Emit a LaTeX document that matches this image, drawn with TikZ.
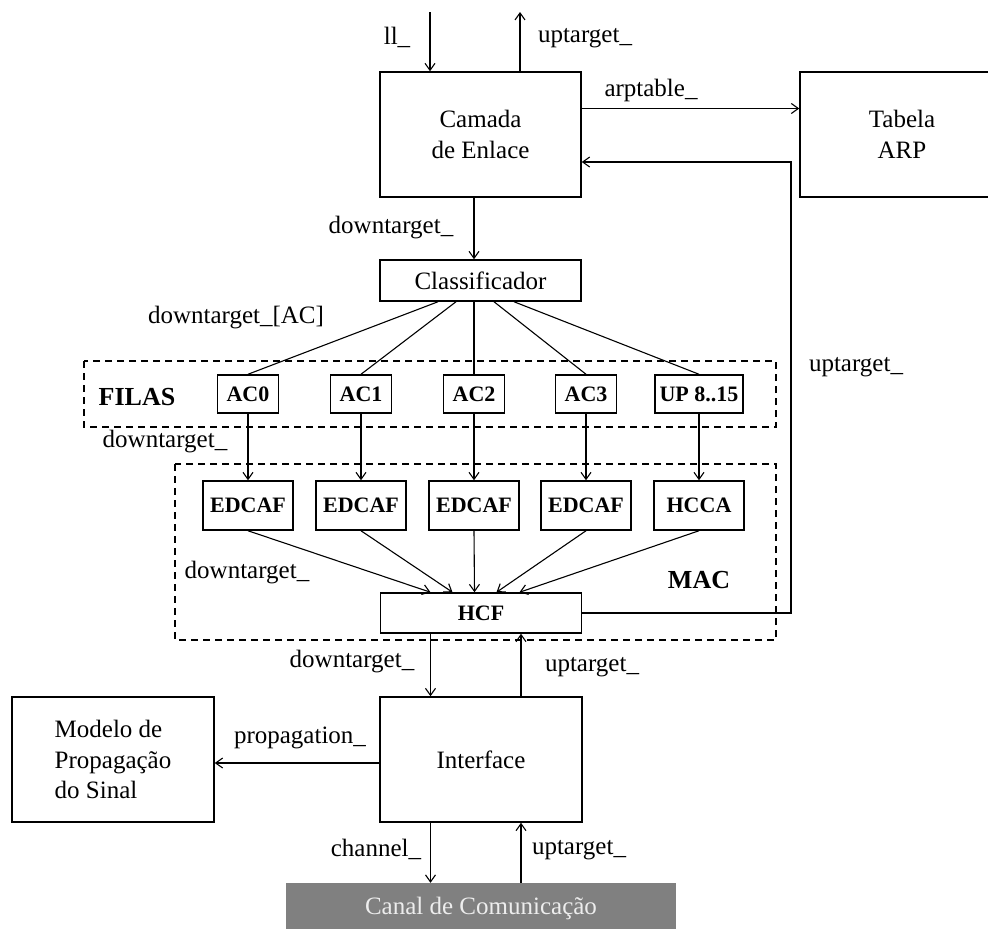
\documentclass[tikz,border=0pt]{standalone}
\usepackage{fontspec}
\setmainfont{Liberation Serif}
\usetikzlibrary{arrows.meta}
\tikzset{
    blk/.style={draw,line width=1.5pt,inner sep=0pt,align=center,font=\fontsize{25}{31}\selectfont},
    qbox/.style={draw,line width=1.5pt,inner sep=0pt,font=\bfseries\fontsize{22}{26}\selectfont},
    lbl/.style={inner sep=0pt,font=\fontsize{25}{30}\selectfont},
    grp/.style={line width=1.2pt,dash pattern=on 7pt off 5pt},
    link/.style={line width=1.1pt},
}

\begin{document}
\begin{tikzpicture}[x=1pt,y=-1pt,>={Straight Barb[length=7pt,width=10pt]}]
            \useasboundingbox (0,0) rectangle (988,929);
            \clip (0,0) rectangle (988,929);
            \draw[grp] (84,361) rectangle (776,427);
            \draw[grp] (175,464) rectangle (776,640);
            \node[blk,minimum width=201pt,minimum height=125pt] (camada) at (480.5,134.5) {Camada\\de Enlace};
            \node[blk,minimum width=204pt,minimum height=125pt] (tabela) at (902,134.5) {Tabela\\ARP};
            \node[blk,minimum width=201pt,minimum height=41pt] (classif) at (480.5,280.5) {Classificador};
            \node[lbl,font=\bfseries\fontsize{26}{30}\selectfont] (filas) at (137,397) {FILAS};
            \foreach \n/\x/\w/\t in {0/248/61/AC0,1/361/61/AC1,2/474/61/AC2,3/586/61/AC3,4/699/88/{UP 8..15}}
                \node[qbox,minimum width=\w pt,minimum height=38pt] (ac\n) at (\x,394) {\t};
            \foreach \n/\x/\t in {0/248/EDCAF,1/361/EDCAF,2/474/EDCAF,3/586/EDCAF,4/699/HCCA}
                \node[qbox,minimum width=90pt,minimum height=49pt] (ed\n) at (\x,505.5) {\t};
            \node[lbl,font=\bfseries\fontsize{26}{30}\selectfont] (mac) at (699,580) {MAC};
            \node[qbox,minimum width=201pt,minimum height=40pt] (hcf) at (481,613) {HCF};
            \node[blk,minimum width=202pt,minimum height=125pt] (iface) at (481,759.5) {Interface};
            \node[blk,align=left,minimum width=202pt,minimum height=125pt,font=\fontsize{25}{30.5}\selectfont] (modelo) at (113,759.5) {Modelo de\\Propagação\\do Sinal};
            \node[fill=black!50,text=black!7,inner sep=0pt,minimum width=390pt,minimum height=50pt,font=\fontsize{25}{30}\selectfont] (canal) at (481,908) {Canal de Comunicação};
            \coordinate (llin) at (430,12);
            \coordinate (upout) at (520,12);
            \coordinate (ret) at (791,162);
            \draw[link,->] (llin) -- (llin |- camada.north);
            \draw[link,->] (upout |- camada.north) -- (upout);
            \draw[link,->] ([yshift=26pt]camada.east) -- ([yshift=26pt]camada.east -| tabela.west);
            \draw[link,->] (hcf.east) -| (ret) -- (ret -| camada.east);
            \draw[link,->] ([xshift=-6.5pt]camada.south) -- ([xshift=-6.5pt]classif.north);
            \foreach \n/\s in {0/-42.5,1/-24.5,2/-6.5,3/13.5,4/33.5}
                \draw[link] ([xshift=\s pt]classif.south) -- (ac\n.north);
            \foreach \n in {0,...,4}
                \draw[link,->] (ac\n.south) -- (ed\n.north);
            \foreach \n/\s in {0/-50.5,1/-28.5,2/-6.5,3/15.5,4/38.5}
                \draw[link,->] (ed\n.south) -- ([xshift=\s pt]hcf.north);
            \draw[link,->] ([xshift=-50.5pt]hcf.south) -- ([xshift=-50.5pt]iface.north);
            \draw[link,->] ([xshift=40pt]iface.north) -- ([xshift=40pt]hcf.south);
            \draw[link,->] ([yshift=-3.5pt]iface.west) -- ([yshift=-3.5pt]modelo.east);
            \draw[link,->] ([xshift=-50.5pt]iface.south) -- ([xshift=-50.5pt]canal.north);
            \draw[link,->] ([xshift=40pt]canal.north) -- ([xshift=40pt]iface.south);
            \node[lbl] (llname) at (397,37) {ll\_};
            \node[lbl] (uplink) at (585,38) {uptarget\_};
            \node[lbl] (arpname) at (651,90) {arptable\_};
            \node[lbl] (dnclass) at (391,228) {downtarget\_};
            \node[lbl] (dnac) at (236,318) {downtarget\_[AC]};
            \node[lbl] (dnfila) at (165,442) {downtarget\_};
            \node[lbl] (dnmac) at (247,573) {downtarget\_};
            \node[lbl] (uphcf) at (856,367) {uptarget\_};
            \node[lbl] (dnphy) at (352,662) {downtarget\_};
            \node[lbl] (upphy) at (592,667) {uptarget\_};
            \node[lbl] (propname) at (300,738) {propagation\_};
            \node[lbl] (chname) at (376,849) {channel\_};
            \node[lbl] (upchan) at (579,850) {uptarget\_};
        \end{tikzpicture}
\end{document}
